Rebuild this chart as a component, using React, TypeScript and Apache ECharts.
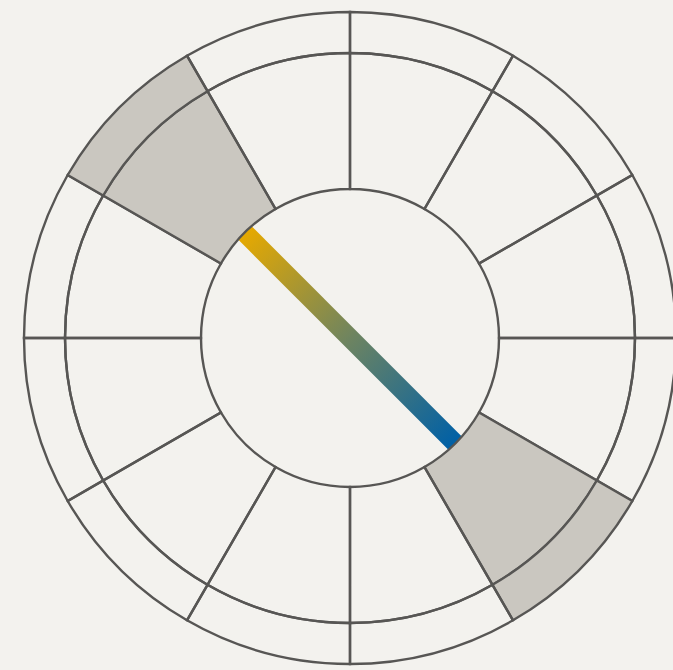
import React, { useEffect, useRef } from "react";
import * as echarts from "echarts";

// 12 sectors of the wheel, clockwise from the top
const sectors = ["0°", "30°", "60°", "90°", "120°", "150°", "180°", "210°", "240°", "270°", "300°", "330°"];
// radial extent of each layer (px in radius-axis units)
const coreValues = [149, 149, 149, 149, 149, 149, 149, 149, 149, 149, 149, 149];
const ringValues = [136, 136, 136, 136, 136, 136, 136, 136, 136, 136, 136, 136];
const rimValues = [41, 41, 41, 41, 41, 41, 41, 41, 41, 41, 41, 41];
// highlighted (complementary) sectors
const highlighted = ["120°", "300°"];
// diameter joining the highlighted sectors: [radius, sector]
const axisFrom: [number, string] = [149, "300°"];
const axisTo: [number, string] = [149, "120°"];

const BG = "#F3F2EE";
const STROKE = "#575654";
const FILL = "#CAC7C0";

export default function App() {
  const ref = useRef<HTMLDivElement>(null);
  useEffect(() => {
    if (!ref.current) return;
    const chart = echarts.init(ref.current, undefined, { renderer: "svg" });
    const layer = (vals: number[], withBorder: boolean) =>
      vals.map((v, i) => ({
        value: v,
        itemStyle: {
          color: withBorder && highlighted.includes(sectors[i]) ? FILL : "rgba(0,0,0,0)",
          borderColor: withBorder ? STROKE : "rgba(0,0,0,0)",
          borderWidth: withBorder ? 2.4 : 0,
        },
      }));
    chart.setOption({
      animation: false,
      backgroundColor: BG,
      polar: { center: [350, 338], radius: [0, 326] },
      angleAxis: {
        type: "category",
        data: sectors,
        startAngle: 90,
        clockwise: true,
        boundaryGap: true,
        axisLine: { show: false },
        axisTick: { show: false },
        axisLabel: { show: false },
        splitLine: { show: false },
      },
      radiusAxis: {
        type: "value",
        min: 0,
        max: 326,
        axisLine: { show: false },
        axisTick: { show: false },
        axisLabel: { show: false },
        splitLine: { show: false },
      },
      series: [
        {
          type: "line",
          coordinateSystem: "polar",
          z: 1,
          silent: true,
          symbol: "none",
          data: [axisFrom, axisTo],
          lineStyle: {
            width: 19,
            cap: "butt",
            color: new echarts.graphic.LinearGradient(0, 0, 1, 1, [
              { offset: 0, color: "#E6A900" },
              { offset: 0.5, color: "#6E8460" },
              { offset: 1, color: "#0060A6" },
            ]),
          },
        },
        {
          type: "bar",
          coordinateSystem: "polar",
          stack: "wheel",
          z: 2,
          silent: true,
          barCategoryGap: "0%",
          data: layer(coreValues, false),
        },
        {
          type: "bar",
          coordinateSystem: "polar",
          stack: "wheel",
          z: 2,
          silent: true,
          barCategoryGap: "0%",
          data: layer(ringValues, true),
        },
        {
          type: "bar",
          coordinateSystem: "polar",
          stack: "wheel",
          z: 2,
          silent: true,
          barCategoryGap: "0%",
          data: layer(rimValues, true),
        },
      ],
    });
    return () => chart.dispose();
  }, []);
  return (
    <div
      ref={ref}
      style={{ position: "fixed", left: 0, top: 0, width: 673, height: 670, background: BG }}
    />
  );
}
